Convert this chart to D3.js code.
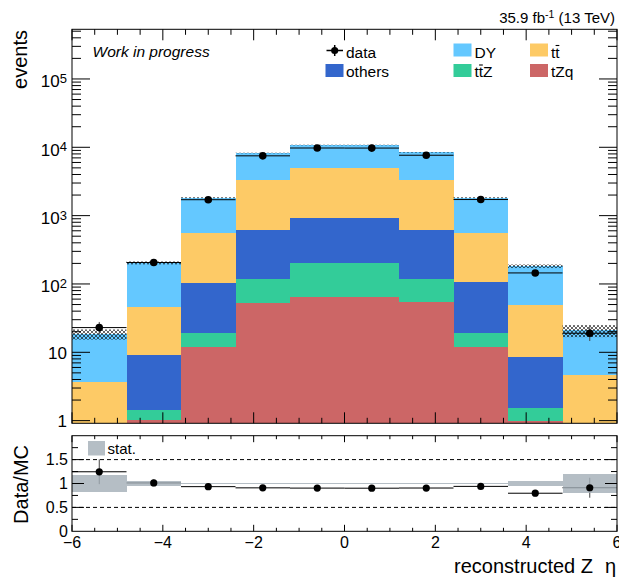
<!DOCTYPE html>
<html>
<head>
<meta charset="utf-8">
<script src="https://cdn.jsdelivr.net/npm/d3@7"></script>
<style>
  body { margin: 0; background: #fff; }
  text { font-family: "Liberation Sans", Arial, Helvetica, sans-serif; fill: #000; }
</style>
</head>
<body>
<svg id="chart" width="619" height="578"></svg>
<script>
// ---- data: reconstructed Z eta, 10 bins from -6 to 6 ----
const binEdges = [-6, -4.8, -3.6, -2.4, -1.2, 0, 1.2, 2.4, 3.6, 4.8, 6];
const tZq    = [0.02, 1.02, 12.0, 53, 64.5, 64.5, 55, 11.8, 1.0, 0.02];
const ttZ    = [0.05, 0.41, 7.4, 67, 140, 140, 65, 7.6, 0.52, 0.05];
const others = [0.3, 7.6, 85, 498, 730, 730, 500, 86, 7.0, 0.3];
const ttbar  = [3.3, 36.6, 448, 2717, 4110, 4110, 2715, 447, 40.5, 4.28];
const dy     = [14.8, 158, 1278, 4915, 5755, 5755, 5115, 1278, 133, 16.2];
const dataCounts = [23, 206, 1710, 7500, 9760, 9740, 7650, 1720, 145, 19];
const statUnc = [0.17, 0.05, 0.018, 0.01, 0.01, 0.01, 0.01, 0.018, 0.06, 0.2];
const xTickLabels = [-6, -4, -2, 0, 2, 4, 6];
const yMainLabels = [1, 10, 100, 1000, 10000, 100000];
const yRatioLabels = [0, 0.5, 1, 1.5];

const processes = ["tZq", "ttZ", "others", "tt", "DY"];
const colors = { DY: "#64c8ff", tt: "#fdca66", others: "#3366cc", ttZ: "#33cc99", tZq: "#cc6666" };

// ---- layout ----
const L = 72, R = 617, T = 29.3, B = 423.3;     // main pad frame
const RT = 435.7, RB = 531.3;                    // ratio pad frame
const yMin = 0.914, yMax = 5.33e5;

const svg = d3.select("#chart");
const x = d3.scaleLinear().domain([-6, 6]).range([L, R]);
const y = d3.scaleLog().domain([yMin, yMax]).range([B, T]);
const yr = d3.scaleLinear().domain([0, 2]).range([RB, RT]);

const bins = binEdges.slice(0, -1).map((lo, i) => ({ lo, hi: binEdges[i + 1], i }));
const rows = bins.map((b, i) => ({ tZq: tZq[i], ttZ: ttZ[i], others: others[i], tt: ttbar[i], DY: dy[i] }));
const totals = rows.map(r => processes.reduce((s, k) => s + r[k], 0));
const stacked = d3.stack().keys(processes)(rows);

const defs = svg.append("defs");
defs.append("clipPath").attr("id", "mainClip")
  .append("rect").attr("x", L).attr("y", T).attr("width", R - L).attr("height", B - T);
const hatch = defs.append("pattern").attr("id", "hatch")
  .attr("patternUnits", "userSpaceOnUse").attr("width", 4).attr("height", 4);
hatch.append("path").attr("d", "M0,0L4,4M0,4L4,0")
  .attr("stroke", "#000").attr("stroke-width", 0.6).attr("fill", "none");

// ---- main pad: stacked histogram, one step-area per process ----
const main = svg.append("g").attr("clip-path", "url(#mainClip)");
const yc = v => y(Math.max(v, yMin));
const stepArea = d3.area()
  .x(d => x(d.edge))
  .y0(d => yc(d.v0))
  .y1(d => yc(d.v1))
  .curve(d3.curveStepAfter);

stacked.forEach(layer => {
  const pts = layer.map((d, i) => ({ edge: bins[i].lo, v0: d[0], v1: d[1] }));
  const last = layer[layer.length - 1];
  pts.push({ edge: bins[bins.length - 1].hi, v0: last[0], v1: last[1] });
  main.append("path").attr("d", stepArea(pts))
    .attr("fill", colors[layer.key]).attr("shape-rendering", "crispEdges");
});

// MC uncertainty band
main.append("g").selectAll("rect").data(bins).join("rect")
  .attr("x", b => x(b.lo))
  .attr("width", b => x(b.hi) - x(b.lo))
  .attr("y", b => y(totals[b.i] * (1 + statUnc[b.i])))
  .attr("height", b => y(totals[b.i] * (1 - statUnc[b.i])) - y(totals[b.i] * (1 + statUnc[b.i])))
  .attr("fill", "url(#hatch)");

// data points
const dataG = main.append("g");
bins.forEach(b => {
  const n = dataCounts[b.i], e = Math.sqrt(n);
  const cx = x((b.lo + b.hi) / 2), cy = y(n);
  dataG.append("line").attr("x1", x(b.lo)).attr("x2", x(b.hi)).attr("y1", cy).attr("y2", cy)
    .attr("stroke", "#000").attr("stroke-width", 1);
  dataG.append("line").attr("x1", cx).attr("x2", cx).attr("y1", y(n + e)).attr("y2", y(Math.max(n - e, yMin)))
    .attr("stroke", "#444").attr("stroke-width", 1);
  dataG.append("circle").attr("cx", cx).attr("cy", cy).attr("r", 3.8).attr("fill", "#000");
});

// ---- ratio pad ----
const ratio = svg.append("g");
[0.5, 1.5].forEach(v => {
  ratio.append("line").attr("x1", L).attr("x2", R).attr("y1", yr(v)).attr("y2", yr(v))
    .attr("stroke", "#000").attr("stroke-width", 1).attr("stroke-dasharray", "4,3");
});
bins.forEach(b => {
  const n = dataCounts[b.i], tot = totals[b.i];
  const r = n / tot, re = Math.sqrt(n) / tot;
  const cx = x((b.lo + b.hi) / 2);
  ratio.append("line").attr("x1", x(b.lo)).attr("x2", x(b.hi)).attr("y1", yr(r)).attr("y2", yr(r))
    .attr("stroke", "#000").attr("stroke-width", 1);
  ratio.append("line").attr("x1", cx).attr("x2", cx).attr("y1", yr(r + re)).attr("y2", yr(r - re))
    .attr("stroke", "#444").attr("stroke-width", 1);
});
ratio.append("g").selectAll("rect").data(bins).join("rect")
  .attr("x", b => x(b.lo))
  .attr("width", b => x(b.hi) - x(b.lo))
  .attr("y", b => yr(1 + statUnc[b.i]))
  .attr("height", b => yr(1 - statUnc[b.i]) - yr(1 + statUnc[b.i]))
  .attr("fill", "#a2aeb7").attr("opacity", 0.8).attr("shape-rendering", "crispEdges");
bins.forEach(b => {
  const r = dataCounts[b.i] / totals[b.i];
  ratio.append("circle").attr("cx", x((b.lo + b.hi) / 2)).attr("cy", yr(r)).attr("r", 3.6).attr("fill", "#000");
});

// ---- axes (ticks drawn inward on all four sides) ----
const axes = svg.append("g").attr("stroke", "#000").attr("stroke-width", 1);
function tick(x1, y1, x2, y2) {
  axes.append("line").attr("x1", x1).attr("y1", y1).attr("x2", x2).attr("y2", y2);
}
const xTicks = d3.range(-6, 6.001, 0.5);
xTicks.forEach(v => {
  const major = Math.abs(v % 2) < 1e-9;
  const px = x(v);
  const lm = major ? 11 : 5.5;
  tick(px, B, px, B - lm); tick(px, T, px, T + lm);
  const lr = major ? 6.5 : 3.5;
  tick(px, RB, px, RB - lr); tick(px, RT, px, RT + lr);
});
// log ticks, main pad
for (let p = -1; p <= 6; p++) {
  for (let k = 1; k <= 9; k++) {
    const v = k * Math.pow(10, p);
    if (v < yMin || v > yMax) continue;
    const len = k === 1 ? 18 : 9;
    const py = y(v);
    tick(L, py, L + len, py); tick(R, py, R - len, py);
  }
}
// ratio pad y ticks
d3.range(0.25, 2, 0.25).forEach(v => {
  const len = Math.abs(v % 0.5) < 1e-9 ? 12 : 6;
  tick(L, yr(v), L + len, yr(v)); tick(R, yr(v), R - len, yr(v));
});
// frames
svg.append("rect").attr("x", L).attr("y", T).attr("width", R - L).attr("height", B - T)
  .attr("fill", "none").attr("stroke", "#000").attr("stroke-width", 1);
svg.append("rect").attr("x", L).attr("y", RT).attr("width", R - L).attr("height", RB - RT)
  .attr("fill", "none").attr("stroke", "#000").attr("stroke-width", 1);

// ---- tick labels ----
yMainLabels.forEach(v => {
  const p = Math.round(Math.log10(v));
  const t = svg.append("text").attr("x", 67).attr("text-anchor", "end").attr("font-size", 17);
  if (p <= 1) {
    t.attr("y", y(v) + 6.5).text(String(v));
  } else {
    t.attr("y", y(v) + 8.5);
    t.append("tspan").text("10");
    t.append("tspan").attr("font-size", 13).attr("dy", -4.5).text(String(p));
  }
});
yRatioLabels.forEach(v => {
  svg.append("text").attr("x", 68).attr("y", yr(v) + 5.2).attr("text-anchor", "end")
    .attr("font-size", 16).text(String(v));
});
xTickLabels.forEach(v => {
  svg.append("text").attr("x", x(v)).attr("y", 547.5).attr("text-anchor", "middle")
    .attr("font-size", 16).text(v < 0 ? "\u2212" + Math.abs(v) : String(v));
});

// ---- titles ----
svg.append("text").attr("transform", "translate(27,30) rotate(-90)").attr("text-anchor", "end")
  .attr("font-size", 20).text("events");
svg.append("text").attr("transform", "translate(28,445) rotate(-90)").attr("text-anchor", "end")
  .attr("font-size", 20).text("Data/MC");
svg.append("text").attr("x", 593).attr("y", 573).attr("text-anchor", "end")
  .attr("font-size", 20).text("reconstructed Z");
svg.append("text").attr("x", 605).attr("y", 573).attr("font-size", 20).text("\u03b7");

const lumi = svg.append("text").attr("x", 615).attr("y", 23).attr("text-anchor", "end").attr("font-size", 15);
lumi.append("tspan").text("35.9 fb");
lumi.append("tspan").attr("font-size", 10.5).attr("dy", -5.5).text("-1");
lumi.append("tspan").attr("dy", 5.5).text(" (13 TeV)");

svg.append("text").attr("x", 92.5).attr("y", 57).attr("font-size", 15.5)
  .attr("font-style", "italic").text("Work in progress");

// ---- legend ----
const leg = svg.append("g");
// data entry: marker with error cross
leg.append("line").attr("x1", 326.5).attr("x2", 343).attr("y1", 50.5).attr("y2", 50.5).attr("stroke", "#000").attr("stroke-width", 1.5);
leg.append("line").attr("x1", 334.7).attr("x2", 334.7).attr("y1", 45).attr("y2", 56).attr("stroke", "#000").attr("stroke-width", 1.5);
leg.append("circle").attr("cx", 334.7).attr("cy", 50.5).attr("r", 3.6).attr("fill", "#000");
leg.append("text").attr("x", 346).attr("y", 57.5).attr("font-size", 15.5).text("data");

const legendBoxes = [
  { key: "others", bx: 325.5, by: 64, tx: 346, ty: 77, label: "others" },
  { key: "DY", bx: 453.5, by: 43.5, tx: 474.5, ty: 57.5, label: "DY" },
  { key: "ttZ", bx: 453.5, by: 64, tx: 474.5, ty: 77, label: "ttZ", bar: 1 },
  { key: "tt", bx: 530, by: 43.5, tx: 551, ty: 57.5, label: "tt", bar: 1 },
  { key: "tZq", bx: 530, by: 64, tx: 551, ty: 77, label: "tZq" }
];
legendBoxes.forEach(e => {
  leg.append("rect").attr("x", e.bx).attr("y", e.by).attr("width", 18).attr("height", 13)
    .attr("fill", colors[e.key]);
  const t = leg.append("text").attr("x", e.tx).attr("y", e.ty).attr("font-size", 15.5).text(e.label);
  if (e.bar !== undefined) {
    // bar over the anti-top
    const ext = t.node().getExtentOfChar(e.bar);
    leg.append("line").attr("x1", ext.x + 0.3).attr("x2", ext.x + ext.width - 0.3)
      .attr("y1", e.ty - 12).attr("y2", e.ty - 12).attr("stroke", "#000").attr("stroke-width", 1.1);
  }
});

// ratio legend
svg.append("rect").attr("x", 88).attr("y", 441).attr("width", 17).attr("height", 14.5)
  .attr("fill", "#a2aeb7").attr("opacity", 0.8);
svg.append("text").attr("x", 107.5).attr("y", 453.5).attr("font-size", 15).text("stat.");
</script>
</body>
</html>
